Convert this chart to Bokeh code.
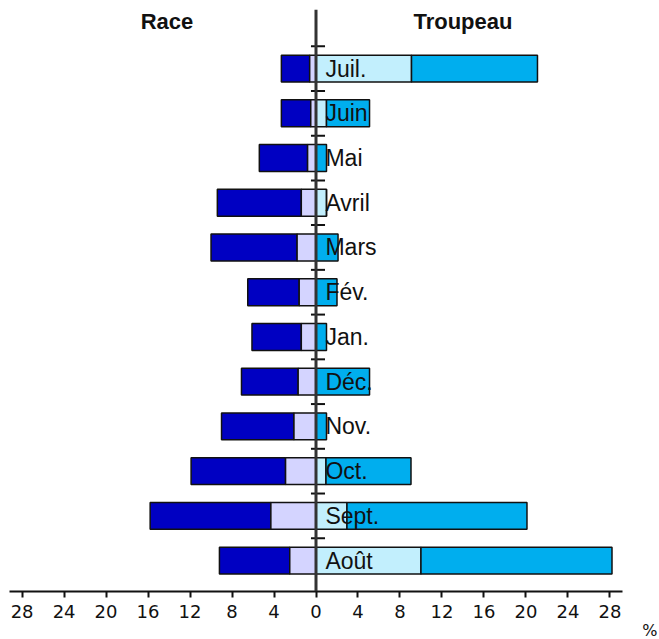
from bokeh.plotting import figure
from bokeh.models import ColumnDataSource, Range1d, FixedTicker, Span, Title
from bokeh.core.properties import value
from bokeh.embed import file_html
from bokeh.resources import INLINE

# Data (bottom to top)
months = ["Août", "Sept.", "Oct.", "Nov.", "Déc.", "Jan.", "Fév.", "Mars", "Avril", "Mai", "Juin", "Juil."]
race_total = [9.2, 15.8, 11.9, 9.0, 7.1, 6.1, 6.5, 10.0, 9.4, 5.4, 3.3, 3.3]
race_part = [2.5, 4.3, 2.9, 2.1, 1.7, 1.4, 1.6, 1.8, 1.4, 0.8, 0.5, 0.6]
troupeau_light = [10.0, 2.95, 0.95, 0.0, 0.0, 0.0, 0.0, 0.0, 1.0, 0.0, 1.0, 9.1]
troupeau_total = [28.2, 20.1, 9.05, 1.0, 5.1, 1.0, 2.0, 2.1, 1.0, 1.0, 5.1, 21.1]
tick_values = [-28, -24, -20, -16, -12, -8, -4, 0, 4, 8, 12, 16, 20, 24, 28]
tick_labels = ["28", "24", "20", "16", "12", "8", "4", "0", "4", "8", "12", "16", "20", "24", "28"]
titles = ["Race", "Troupeau"]
title_x = [-14.2, 14.0]
unit_label = "%"

ypos = list(range(len(months)))
src = ColumnDataSource(dict(
    y=ypos,
    month=months,
    neg_total=[-v for v in race_total],
    neg_part=[-v for v in race_part],
    tr_light=troupeau_light,
    tr_total=troupeau_total,
))

p = figure(frame_width=613, frame_height=582,
           x_range=Range1d(-29.2, 29.2), y_range=Range1d(-0.69, 12.32),
           output_backend="svg", toolbar_location=None, y_axis_location=None,
           min_border_left=9, min_border_right=37, min_border_top=9, min_border_bottom=0)
p.outline_line_color = None
p.xgrid.visible = False
p.ygrid.visible = False

bar_kw = dict(height=0.6, line_color="#111111", line_width=1.5)
p.hbar(y="y", left="neg_total", right="neg_part", fill_color="#0000C2", source=src, **bar_kw)
p.hbar(y="y", left="neg_part", right=0, fill_color="#D4D4FF", source=src, **bar_kw)
p.hbar(y="y", left=0, right="tr_light", fill_color="#C2EFFD", source=src, **bar_kw)
p.hbar(y="y", left="tr_light", right="tr_total", fill_color="#00AEEE", source=src, **bar_kw)

p.text(x=0.9, y="y", text="month", source=src, text_font=value("Liberation Sans"),
       text_font_size="23px", text_baseline="middle", text_align="left", text_color="#111111")

p.text(x=title_x, y=[12.05, 12.05], text=titles, text_font=value("Liberation Sans"),
       text_font_size="22px", text_font_style="bold", text_align="center",
       text_baseline="middle", text_color="#111111")

p.add_layout(Span(location=0, dimension="height", line_color="#333333", line_width=3))

bounds = [i + 0.5 for i in ypos]
p.segment(x0=[-0.48] * len(bounds), x1=[0.86] * len(bounds), y0=bounds, y1=bounds,
          line_color="#111111", line_width=2)

ax = p.xaxis[0]
ax.ticker = FixedTicker(ticks=tick_values)
ax.major_label_overrides = {v: l for v, l in zip(tick_values, tick_labels)}
ax.axis_line_width = 2
ax.axis_line_color = "#111111"
ax.major_tick_line_width = 2
ax.major_tick_line_color = "#111111"
ax.major_tick_out = 6
ax.major_tick_in = 0
ax.minor_tick_line_color = None
ax.major_label_text_font = "DejaVu Sans"
ax.major_label_text_font_size = "18px"
ax.major_label_text_color = "#111111"
ax.major_label_standoff = 7

p.add_layout(Title(text=unit_label, align="right", offset=-35, standoff=0,
                   vertical_align="top", text_font="DejaVu Sans", text_font_size="16px",
                   text_font_style="normal", text_color="#111111"), "below")

open("out.html", "w").write(file_html(p, INLINE))
